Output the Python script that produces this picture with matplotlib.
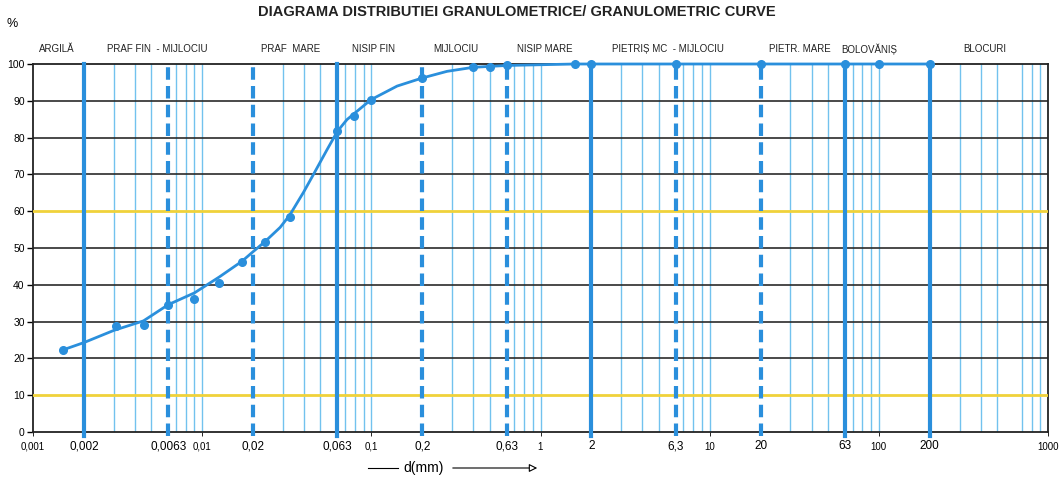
import matplotlib
matplotlib.use("Agg")
import matplotlib.pyplot as plt
from matplotlib.lines import Line2D

plt.rcParams["font.family"] = ["Liberation Sans Narrow", "Liberation Sans", "DejaVu Sans"]

W, H = 1064, 482

BLUE = "#2a8fdc"
LIGHT_BLUE = "#72c2ee"
YELLOW = "#f0d23a"
GRID = "#2b2b2b"

# smooth curve
CURVE_D = [0.0015, 0.002, 0.003, 0.0045, 0.0063, 0.009, 0.0126, 0.0172, 0.02,
           0.0236, 0.0289, 0.033, 0.0398, 0.0455, 0.0547, 0.063, 0.0718, 0.0995,
           0.142, 0.2, 0.28, 0.4, 0.63, 1.0, 1.6, 200]
CURVE_P = [22.3, 24.3, 27.6, 30.2, 34.6, 37.8, 42.1, 46.4, 49.0,
           51.8, 55.6, 59.0, 65.2, 70.0, 76.7, 81.7, 84.9, 90.3,
           94.0, 96.2, 98.0, 99.1, 99.6, 99.8, 100, 100]

# measured points
POINT_D = [0.0015, 0.0031, 0.0045, 0.0063, 0.009, 0.0126, 0.0172, 0.0236, 0.033,
           0.063, 0.079, 0.1, 0.2, 0.4, 0.5, 0.63, 1.6, 2, 6.3, 20, 63, 100, 200]
POINT_P = [22.3, 28.7, 29.1, 34.6, 36.1, 40.5, 46.2, 51.6, 58.4,
           81.7, 85.8, 90.3, 96.2, 99.1, 99.2, 99.6, 100, 100, 100, 100, 100, 100, 100]

SIEVES = [0.002, 0.0063, 0.02, 0.063, 0.2, 0.63, 2, 6.3, 20, 63, 200]
SIEVE_SOLID = [True, False, False, True, False, False, True, False, False, True, True]
SIEVE_LABELS = ["0,002", "0,0063", "0,02", "0,063", "0,2", "0,63", "2", "6,3", "20", "63", "200"]
DECADES = [0.001, 0.01, 0.1, 1, 10, 100, 1000]
DECADE_LABELS = ["0,001", "0,01", "0,1", "1", "10", "100", "1000"]

CLASSES = ["ARGILĂ", "PRAF FIN  - MIJLOCIU", "PRAF  MARE", "NISIP FIN", "MIJLOCIU",
           "NISIP MARE", "PIETRIȘ MC  - MIJLOCIU", "PIETR. MARE", "BOLOVĂNIȘ", "BLOCURI"]
CLASS_X = [57, 157, 291, 373, 456, 545, 668, 800, 869, 985]

fig = plt.figure(figsize=(W / 100, H / 100), dpi=100)
ax = fig.add_axes([33 / W, 1 - 432 / H, (1048 - 33) / W, (432 - 64) / H])
ax.set_xscale("log")
ax.set_xlim(0.001, 1000)
ax.set_ylim(0, 100)

# thin light blue lines
for base in DECADES[:-1]:
    for m in [3, 4, 5, 7, 8, 9, 10]:
        ax.axvline(base * m, color=LIGHT_BLUE, lw=1.0, zorder=1)

# horizontal grid, yellow at 10 and 60
for v in range(10, 100, 10):
    if v in (10, 60):
        ax.axhline(v, color=YELLOW, lw=2.0, zorder=3)
    else:
        ax.axhline(v, color=GRID, lw=1.2, zorder=2)

# sieve lines
for d, solid in zip(SIEVES, SIEVE_SOLID):
    ax.axvline(d, color=BLUE, lw=3.0, ls="-" if solid else (0, (3, 1.5)),
               zorder=4, ymin=-0.01, clip_on=False)

ax.plot(CURVE_D, CURVE_P, color=BLUE, lw=2.0, zorder=6, clip_on=False)
ax.plot(POINT_D, POINT_P, "o", color=BLUE, ms=5.5, zorder=7, clip_on=False)

for s in ax.spines.values():
    s.set_color("#222222")
    s.set_linewidth(1.3)

ax.set_yticks(range(0, 101, 10))
ax.tick_params(axis="y", labelsize=7.5, length=4, width=1, pad=2)
ax.set_xticks(SIEVES, SIEVE_LABELS)
ax.set_xticks(DECADES, DECADE_LABELS, minor=True)
ax.tick_params(axis="x", which="major", labelsize=8.5, length=0, pad=6)
ax.tick_params(axis="x", which="minor", labelsize=7, length=3, pad=4)

fig.text(517 / W, 1 - 12 / H, "DIAGRAMA DISTRIBUTIEI GRANULOMETRICE/ GRANULOMETRIC CURVE",
         ha="center", va="center", fontsize=10.5, fontweight="bold", color="#222222")
fig.text(12 / W, 1 - 24 / H, "%", ha="center", va="center", fontsize=9)
for label, x in zip(CLASSES, CLASS_X):
    fig.text(x / W, 1 - 49 / H, label, ha="center", va="center", fontsize=7, color="#222222")

# d(mm) arrow
y_arr = 1 - 468 / H
fig.add_artist(Line2D([368 / W, 398 / W], [y_arr, y_arr], color="black", lw=0.8))
fig.text(424 / W, y_arr, "d(mm)", ha="center", va="center", fontsize=10)
ax.annotate("", xy=(540 / W, y_arr), xytext=(450 / W, y_arr), xycoords="figure fraction",
            arrowprops=dict(arrowstyle="-|>", fc="white", ec="black", lw=0.8,
                            mutation_scale=12))

fig.savefig("out.png", dpi=100)
